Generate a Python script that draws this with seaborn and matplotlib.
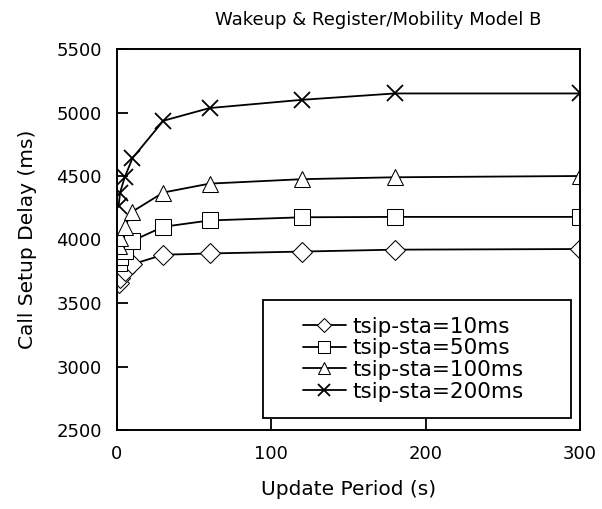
import matplotlib
matplotlib.use("Agg")
import matplotlib.pyplot as plt
from matplotlib.patches import Rectangle
import seaborn as sns
import pandas as pd

update_period = [1, 2, 5, 10, 30, 60, 120, 180, 300]
delay_10ms = [3655, 3700, 3750, 3805, 3880, 3890, 3905, 3920, 3925]
delay_50ms = [3815, 3860, 3910, 3990, 4100, 4150, 4175, 4178, 4178]
delay_100ms = [3950, 4010, 4100, 4220, 4370, 4440, 4475, 4490, 4500]
delay_200ms = [4260, 4370, 4490, 4640, 4935, 5035, 5100, 5150, 5150]
series_labels = ["tsip-sta=10ms", "tsip-sta=50ms", "tsip-sta=100ms", "tsip-sta=200ms"]

sns.set_style("ticks")
plt.rcParams['font.family'] = ['DejaVu Sans']
plt.rcParams['text.color'] = 'black'
plt.rcParams['axes.labelcolor'] = 'black'
plt.rcParams['xtick.color'] = 'black'
plt.rcParams['ytick.color'] = 'black'

fig = plt.figure(figsize=(6.02, 5.09), dpi=100)
ax = fig.add_axes([117/602, 1-430/509, (580-117)/602, (430-49)/509])

styles = [
    dict(marker="D", markersize=10),
    dict(marker="s", markersize=11),
    dict(marker="^", markersize=12),
    dict(marker="x", markersize=12, markeredgewidth=1.3),
]
all_series = [delay_10ms, delay_50ms, delay_100ms, delay_200ms]
for vals, lab, st in zip(all_series, series_labels, styles):
    df = pd.DataFrame({"x": update_period, "y": vals})
    sns.lineplot(data=df, x="x", y="y", ax=ax, color="black", linewidth=1.3,
                 markerfacecolor="white", markeredgecolor="black",
                 label=lab, **st)

ax.set_xlim(0, 300)
ax.set_ylim(2500, 5500)
ax.set_xticks([0, 100, 200, 300])
ax.set_yticks(range(2500, 5501, 500))
ax.tick_params(direction="in", length=8, width=1.3, labelsize=13, pad=11,
               colors="black")
for s in ax.spines.values():
    s.set_linewidth(1.4)
    s.set_color("black")
    s.set_visible(True)

ax.set_xlabel("Update Period (s)", fontsize=14.5, labelpad=12, color="black")
ax.set_ylabel("Call Setup Delay (ms)", fontsize=14.5, labelpad=14, color="black")
fig.text(378/602, 1-20/509, "Wakeup & Register/Mobility Model B",
         ha="center", va="center", fontsize=13, color="black")

# legend frame box
ax.add_patch(Rectangle((0.315, 0.031), 0.666, 0.310, transform=ax.transAxes,
                       facecolor="white", edgecolor="black", linewidth=1.3,
                       zorder=4))
leg = ax.legend(loc="center", bbox_to_anchor=(0.64, 0.186), frameon=False,
                fontsize=15.5, handlelength=2.0, handletextpad=0.3,
                labelspacing=0.08, markerscale=0.75)
for t in leg.get_texts():
    t.set_color("black")
leg.set_zorder(5)

fig.savefig("out.png", dpi=100)
